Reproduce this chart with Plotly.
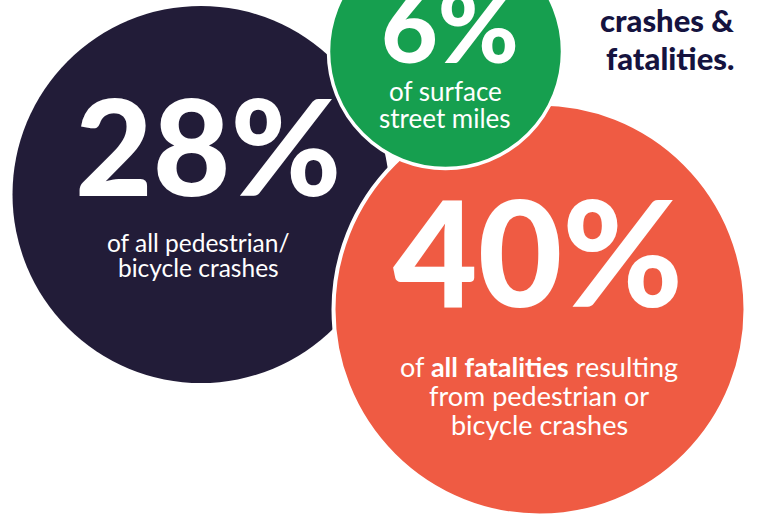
import plotly.graph_objects as go

# ---- data ----
percent_values = [28, 6, 40]
percent_labels = [f"{v}%" for v in percent_values]
caption_lines = [
    ["of all pedestrian/", "bicycle crashes"],
    ["of surface", "street miles"],
    ["of <b>all fatalities</b> resulting", "from pedestrian or", "bicycle crashes"],
]
heading_lines = ["crashes &", "fatalities."]

# ---- layout / styling (not data) ----
W, H = 757, 517
circle_colors = ["#221c38", "#169f4f", "#ef5b43"]
# center x, center y, radius (in pixel-like axis units)
circle_geo = [(201, 194.5, 188.5), (445.5, 51.5, 117), (539.5, 309.5, 206)]
circle_border = [0, 3.5, 4]
draw_order = [0, 2, 1]
big_sizes = [134, 98, 146]
big_pos = [(208, 144.5), (450, 25), (538, 250)]
cap_sizes = [24.5, 26, 27]
cap_x = [198, 445, 539]
cap_y = [[242.5, 267.5], [91, 118], [366.5, 395.5, 424.5]]
head_size = 31
head_x = 736
head_y = [20, 58]

fig = go.Figure()
shapes = []
for i in draw_order:
    cx, cy, r = circle_geo[i]
    shapes.append(dict(
        type="circle", xref="x", yref="y",
        x0=cx - r, x1=cx + r, y0=cy - r, y1=cy + r,
        fillcolor=circle_colors[i],
        line=dict(color="white", width=circle_border[i]) if circle_border[i] else dict(width=0),
        layer="below",
    ))

annotations = []
for i in range(3):
    annotations.append(dict(
        x=big_pos[i][0], y=big_pos[i][1], xref="x", yref="y",
        text=percent_labels[i], showarrow=False,
        font=dict(family="Lato", size=big_sizes[i], color="white", weight=900),
        xanchor="center", yanchor="middle",
    ))
    for line, yy in zip(caption_lines[i], cap_y[i]):
        annotations.append(dict(
            x=cap_x[i], y=yy, xref="x", yref="y",
            text=line, showarrow=False, align="center",
            font=dict(family="Lato", size=cap_sizes[i], color="white"),
            xanchor="center", yanchor="middle",
        ))

for line, yy in zip(heading_lines, head_y):
    annotations.append(dict(
        x=head_x, y=yy, xref="x", yref="y",
        text=line, showarrow=False, align="right",
        font=dict(family="Lato", size=head_size, color="#15133f", weight=900),
        xanchor="right", yanchor="middle",
    ))

fig.add_trace(go.Scatter(x=[0, W], y=[0, H], mode="markers",
                         marker=dict(opacity=0), hoverinfo="skip", showlegend=False))

fig.update_layout(
    width=W, height=H, autosize=False,
    margin=dict(l=0, r=0, t=0, b=0, pad=0),
    paper_bgcolor="white", plot_bgcolor="white",
    xaxis=dict(range=[0, W], visible=False, fixedrange=True),
    yaxis=dict(range=[H, 0], visible=False, fixedrange=True),
    shapes=shapes, annotations=annotations,
)
fig.write_html("out.html", config={"displayModeBar": False})
